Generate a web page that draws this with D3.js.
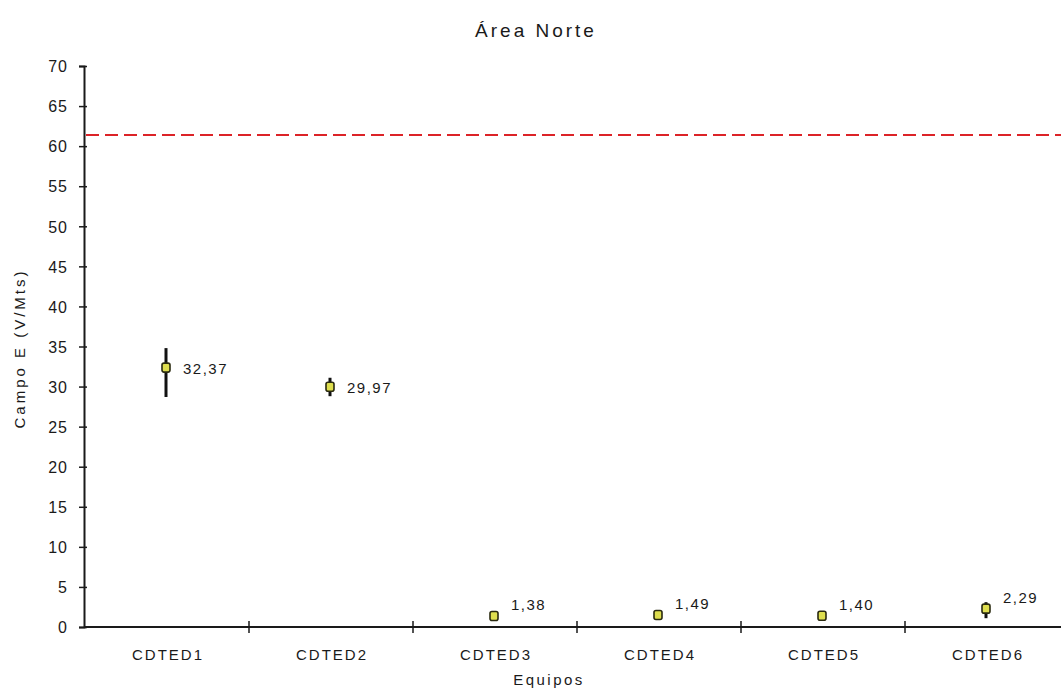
<!DOCTYPE html>
<html>
<head>
<meta charset="utf-8">
<script src="https://cdn.jsdelivr.net/npm/d3@7"></script>
<style>
  html, body { margin: 0; padding: 0; background: #fff; }
  svg { display: block; }
  text { font-family: "Liberation Sans", Arial, sans-serif; fill: #1a1a1a; }
</style>
</head>
<body>
<svg id="chart" width="1061" height="690"></svg>
<script>
// Measured field per equipment: mean value with min/max range
const categories = ["CDTED1", "CDTED2", "CDTED3", "CDTED4", "CDTED5", "CDTED6"];
const meanValues = [32.37, 29.97, 1.38, 1.49, 1.40, 2.29];
const lowValues  = [28.7, 28.8, 0.9, 1.2, 1.2, 1.1];
const highValues = [34.8, 31.1, 1.9, 1.8, 1.6, 3.1];
const valueLabels = ["32,37", "29,97", "1,38", "1,49", "1,40", "2,29"];
const yTicks = [0, 5, 10, 15, 20, 25, 30, 35, 40, 45, 50, 55, 60, 65, 70];
const limitValue = 61.4;

const svg = d3.select("#chart");
const plotLeft = 84, plotRight = 1069, plotTop = 66, plotBottom = 627;

const y = d3.scaleLinear().domain([0, 70]).range([plotBottom, plotTop]);
const x = d3.scaleBand().domain(categories).range([plotLeft + 1, plotRight]).padding(0);

// Title
svg.append("text").attr("x", 536).attr("y", 37).attr("text-anchor", "middle")
  .style("font-size", "19px").style("letter-spacing", "3px").text("Área Norte");

// Y axis
const yAxis = svg.append("g").attr("transform", `translate(${plotLeft},0)`)
  .call(d3.axisLeft(y).tickValues(yTicks).tickSize(5).tickFormat(d3.format("d")));
yAxis.select(".domain").attr("stroke", "#1a1a1a").attr("stroke-width", 2);
yAxis.selectAll(".tick line").attr("stroke", "#1a1a1a").attr("stroke-width", 1.5).attr("x2", -5).attr("x1", 3);
yAxis.selectAll(".tick text").style("font-size", "16px").style("letter-spacing", "1px")
  .attr("fill", "#1a1a1a").attr("x", -16).attr("dy", "0.36em");

svg.append("text")
  .attr("transform", `translate(25,${(plotTop + plotBottom) / 2 + 2}) rotate(-90)`)
  .attr("text-anchor", "middle").style("font-size", "15px").style("letter-spacing", "3px")
  .text("Campo E (V/Mts)");

// X axis with ticks at category boundaries
const xg = svg.append("g").attr("transform", `translate(0,${plotBottom})`);
xg.append("line").attr("x1", plotLeft).attr("x2", plotRight).attr("stroke", "#1a1a1a").attr("stroke-width", 2);
const boundaries = categories.map(c => x(c)).concat([x.range()[1]]);
xg.selectAll("line.tk").data(boundaries.slice(1)).join("line").attr("class", "tk")
  .attr("x1", d => d).attr("x2", d => d).attr("y1", -6).attr("y2", 6)
  .attr("stroke", "#1a1a1a").attr("stroke-width", 1.5);
xg.selectAll("text.cat").data(categories).join("text").attr("class", "cat")
  .attr("x", d => x(d) + x.bandwidth() / 2 + 1).attr("y", 33)
  .attr("text-anchor", "middle").style("font-size", "15px").style("letter-spacing", "2px")
  .text(d => d);

svg.append("text").attr("x", 549).attr("y", 685).attr("text-anchor", "middle")
  .style("font-size", "15px").style("letter-spacing", "2.5px").text("Equipos");

// Limit line
svg.append("line").attr("x1", plotLeft + 2).attr("x2", 1061).attr("y1", y(limitValue)).attr("y2", y(limitValue))
  .attr("stroke", "#dc2328").attr("stroke-width", 2).attr("stroke-dasharray", "13,6");

// Range bars and markers
const data = categories.map((c, i) => ({
  cat: c, mean: meanValues[i], low: lowValues[i], high: highValues[i], label: valueLabels[i]
}));
const cx = d => x(d.cat) + x.bandwidth() / 2 - 1;

svg.selectAll("line.rng").data(data).join("line").attr("class", "rng")
  .attr("x1", cx).attr("x2", cx).attr("y1", d => y(d.low)).attr("y2", d => y(d.high))
  .attr("stroke", "#111").attr("stroke-width", 3);

svg.selectAll("rect.mk").data(data).join("rect").attr("class", "mk")
  .attr("x", d => cx(d) - 4).attr("y", d => y(d.mean) - 4.5).attr("width", 8).attr("height", 9)
  .attr("rx", 2).attr("fill", "#dede4e").attr("stroke", "#2a2a10").attr("stroke-width", 1.6);

// Labels sit beside the marker, or above it when the marker is near the axis
svg.selectAll("text.val").data(data).join("text").attr("class", "val")
  .attr("x", d => cx(d) + 17)
  .attr("y", d => y(d.mean) > plotBottom - 40 ? y(d.mean) - 6 : y(d.mean) + 6)
  .style("font-size", "15px").style("letter-spacing", "1.5px").text(d => d.label);
</script>
</body>
</html>
